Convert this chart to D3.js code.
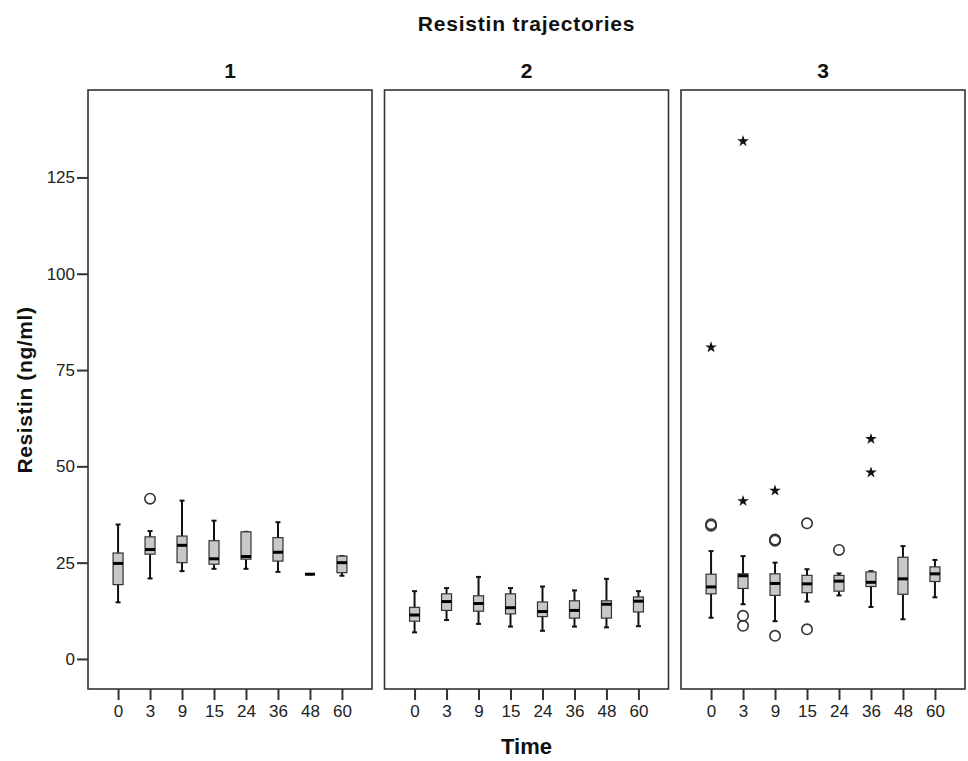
<!DOCTYPE html>
<html>
<head>
<meta charset="utf-8">
<script src="https://cdn.jsdelivr.net/npm/d3@7"></script>
<style>
  body { margin: 0; background: #fff; }
  svg { display: block; font-family: "Liberation Sans", Arial, sans-serif; }
  .tick text { font-size: 17px; fill: #222; }
  .tick line { stroke: #333; stroke-width: 2; }
  .bold { font-weight: bold; fill: #111; }
</style>
</head>
<body>
<div id="chart"></div>
<script>
// categories
const panels = ["1", "2", "3"];
const times = ["0", "3", "9", "15", "24", "36", "48", "60"];
const yTicks = [0, 25, 50, 75, 100, 125];

// box statistics, one row per panel, one value per time point
const whiskerLow = [
    [14.7, 20.9, 22.8, 23.4, 23.4, 22.6, 22.0, 21.6],
    [6.9, 10.1, 9.1, 8.4, 7.3, 8.4, 8.2, 8.5],
    [10.7, 14.2, 9.8, 14.9, 16.5, 13.5, 10.3, 16.0],
];
const quart1 = [
    [19.3, 27.2, 25.0, 24.6, 25.9, 25.4, 22.0, 22.4],
    [9.8, 12.6, 12.4, 11.7, 11.0, 10.6, 10.6, 12.2],
    [16.9, 18.3, 16.5, 17.2, 17.6, 18.8, 16.8, 20.1],
];
const medians = [
    [24.8, 28.4, 29.5, 26.0, 26.6, 27.7, 22.0, 25.0],
    [11.4, 14.9, 14.4, 13.3, 12.3, 12.6, 14.2, 15.0],
    [18.7, 21.6, 19.6, 19.5, 20.2, 19.9, 20.8, 22.1],
];
const quart3 = [
    [27.5, 31.7, 31.9, 30.7, 33.0, 31.5, 22.0, 26.7],
    [13.4, 16.9, 16.4, 16.9, 14.8, 15.1, 15.1, 16.1],
    [22.0, 22.1, 22.1, 21.7, 21.7, 22.6, 26.4, 23.9],
];
const whiskerHigh = [
    [34.9, 33.2, 41.1, 35.9, 33.0, 35.5, 22.0, 26.7],
    [17.6, 18.4, 21.3, 18.4, 18.8, 17.8, 20.8, 17.6],
    [28.0, 26.7, 25.0, 23.3, 22.2, 22.8, 29.3, 25.7],
];

// outliers: [panel, time, value]
const outliers = [
    ["1", "3", 41.6],
    ["3", "0", 34.6], ["3", "0", 35.0],
    ["3", "3", 11.2], ["3", "3", 8.6],
    ["3", "9", 30.7], ["3", "9", 31.0], ["3", "9", 6.0],
    ["3", "15", 35.2], ["3", "15", 7.7],
    ["3", "24", 28.3],
];
const extremes = [
    ["3", "0", 80.9],
    ["3", "3", 134.4], ["3", "3", 41.0],
    ["3", "9", 43.7],
    ["3", "36", 57.1], ["3", "36", 48.4],
];

const width = 968, height = 761;
const margin = { top: 90, left: 88, bottom: 72 };
const panelWidth = 284, panelGap = 12.5;
const plotBottom = height - margin.bottom;
const boxWidth = 10, capWidth = 5;

const svg = d3.select("#chart").append("svg")
    .attr("width", width)
    .attr("height", height);

const y = d3.scaleLinear()
    .domain([-7.8, 147.7])
    .range([plotBottom, margin.top]);

const x = d3.scalePoint()
    .domain(times)
    .range([0, panelWidth])
    .padding(0.94);

const panelX = d3.scaleOrdinal()
    .domain(panels)
    .range(panels.map((_, i) => margin.left + i * (panelWidth + panelGap)));

// y axis on the first panel only
svg.append("g")
    .attr("transform", `translate(${margin.left},0)`)
    .call(d3.axisLeft(y).tickValues(yTicks).tickSize(11).tickPadding(2))
    .call(g => g.select(".domain").remove());

panels.forEach((panel, pi) => {
    const g = svg.append("g").attr("transform", `translate(${panelX(panel)},0)`);

    g.append("g")
        .attr("transform", `translate(0,${plotBottom})`)
        .call(d3.axisBottom(x).tickSize(11).tickPadding(5))
        .call(ax => ax.select(".domain").remove());

    g.append("rect")
        .attr("x", 0)
        .attr("y", margin.top)
        .attr("width", panelWidth)
        .attr("height", plotBottom - margin.top)
        .attr("fill", "none")
        .attr("stroke", "#333")
        .attr("stroke-width", 1.6);

    g.append("text")
        .attr("class", "bold")
        .attr("x", panelWidth / 2)
        .attr("y", 78)
        .attr("text-anchor", "middle")
        .style("font-size", "21px")
        .text(panel);

    const stats = times.map((t, i) => ({
        t,
        low: whiskerLow[pi][i],
        q1: quart1[pi][i],
        med: medians[pi][i],
        q3: quart3[pi][i],
        high: whiskerHigh[pi][i],
    }));

    const box = g.selectAll(".box").data(stats).join("g")
        .attr("class", "box")
        .attr("transform", d => `translate(${x(d.t)},0)`);

    // whiskers
    box.append("line")
        .attr("y1", d => y(d.low)).attr("y2", d => y(d.q1))
        .attr("stroke", "#111").attr("stroke-width", 2);
    box.append("line")
        .attr("y1", d => y(d.q3)).attr("y2", d => y(d.high))
        .attr("stroke", "#111").attr("stroke-width", 2);
    box.append("line")
        .attr("x1", -capWidth / 2).attr("x2", capWidth / 2)
        .attr("y1", d => y(d.low)).attr("y2", d => y(d.low))
        .attr("stroke", "#111").attr("stroke-width", 2);
    box.append("line")
        .attr("x1", -capWidth / 2).attr("x2", capWidth / 2)
        .attr("y1", d => y(d.high)).attr("y2", d => y(d.high))
        .attr("stroke", "#111").attr("stroke-width", 2);

    box.append("rect")
        .attr("x", -boxWidth / 2)
        .attr("width", boxWidth)
        .attr("y", d => y(d.q3))
        .attr("height", d => y(d.q1) - y(d.q3))
        .attr("fill", "#c8c8c8")
        .attr("stroke", "#333")
        .attr("stroke-width", 1.2);

    box.append("line")
        .attr("x1", -boxWidth / 2).attr("x2", boxWidth / 2)
        .attr("y1", d => y(d.med)).attr("y2", d => y(d.med))
        .attr("stroke", "#000").attr("stroke-width", 3);

    g.selectAll(".outlier")
        .data(outliers.filter(d => d[0] === panel))
        .join("circle")
        .attr("class", "outlier")
        .attr("cx", d => x(d[1]))
        .attr("cy", d => y(d[2]))
        .attr("r", 5.2)
        .attr("fill", "none")
        .attr("stroke", "#333")
        .attr("stroke-width", 1.6);

    g.selectAll(".extreme")
        .data(extremes.filter(d => d[0] === panel))
        .join("path")
        .attr("class", "extreme")
        .attr("transform", d => `translate(${x(d[1])},${y(d[2])})`)
        .attr("d", d3.symbol(d3.symbolStar, 42))
        .attr("fill", "#111");
});

// titles
const centerX = panelX("2") + panelWidth / 2;
svg.append("text")
    .attr("class", "bold")
    .attr("x", centerX)
    .attr("y", 31)
    .attr("text-anchor", "middle")
    .style("font-size", "21px")
    .style("letter-spacing", "0.8px")
    .text("Resistin trajectories");

svg.append("text")
    .attr("class", "bold")
    .attr("x", centerX)
    .attr("y", 754)
    .attr("text-anchor", "middle")
    .style("font-size", "22px")
    .text("Time");

svg.append("text")
    .attr("class", "bold")
    .attr("transform", `translate(32,390) rotate(-90)`)
    .attr("text-anchor", "middle")
    .style("font-size", "21px")
    .style("letter-spacing", "0.6px")
    .text("Resistin (ng/ml)");
</script>
</body>
</html>
